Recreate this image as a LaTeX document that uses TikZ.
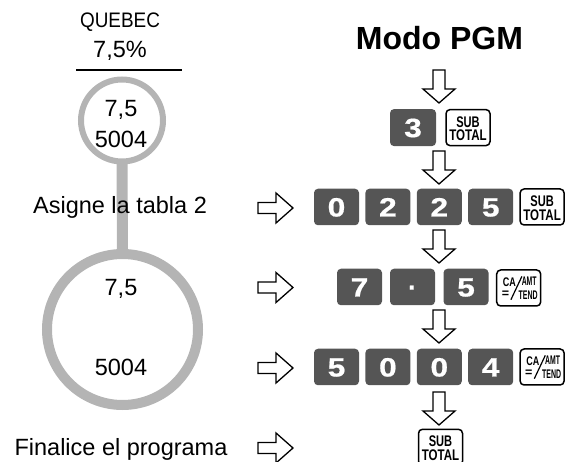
\documentclass[tikz,border=0pt]{standalone}
\usepackage{fontspec}
\setmainfont{Liberation Sans}
\newfontfamily\keyfont[FakeBold=0.6]{Liberation Sans Bold}
\usepackage{graphicx}
\definecolor{keygray}{RGB}{85,85,85}
\definecolor{ringgray}{RGB}{180,180,180}
\tikzset{
  numkey/.style={rectangle, rounded corners=4pt, fill=keygray, minimum width=45pt, minimum height=36.5pt,
    inner sep=0pt, text=white, font=\keyfont\fontsize{26.5}{26.5}\selectfont, text height=19pt, text depth=0pt},
  fnkey/.style={rectangle, rounded corners=4pt, draw=black, line width=1.5pt, fill=white,
    minimum width=44pt, minimum height=36pt, inner sep=0pt},
  fnlab/.style={inner sep=0pt, font=\fontsize{15.4}{15.4}\selectfont\bfseries},
  camlab/.style={inner sep=0pt, font=\fontsize{12.5}{12.5}\selectfont\bfseries},
  lbl/.style={inner sep=0pt, anchor=base, font=\fontsize{23.5}{23.5}\selectfont},
  ringnode/.style={circle, draw=ringgray, inner sep=0pt},
  stem/.style={draw=ringgray, line width=11pt},
  blockarrow/.style={draw=black, line width=1.3pt, fill=white, line join=miter},
  downarr/.pic={\draw[blockarrow] (-6,0) -- (6,0) -- (6,19) -- (16,19) -- (0,33) -- (-16,19) -- (-6,19) -- cycle;},
  rightarr/.pic={\draw[blockarrow] (0,-5.5) -- (18,-5.5) -- (18,-15) -- (35,0) -- (18,15) -- (18,5.5) -- (0,5.5) -- cycle;},
}
\newcommand\kd[1]{\scalebox{1.2}[1]{#1}}
\newcommand\subtotalkey[2]{%
  \node[fnkey] (#1) at (#2) {};
  \node[fnlab] (#1-a) at ([yshift=5.7pt]#1.center) {\scalebox{0.72}[1]{SUB}};
  \node[fnlab] (#1-b) at ([yshift=-8.1pt]#1.center) {\scalebox{0.75}[1]{TOTAL}};
}
\newcommand\camtkey[2]{%
  \node[fnkey] (#1) at (#2) {};
  \node[camlab] (#1-a) at ([xshift=-9.3pt,yshift=5.5pt]#1.center) {\scalebox{0.72}[1]{CA}};
  \node[camlab] (#1-b) at ([xshift=-13.3pt,yshift=-6.5pt]#1.center) {=};
  \node[camlab] (#1-c) at ([xshift=10.5pt,yshift=7pt]#1.center) {\scalebox{0.55}[1]{AMT}};
  \node[camlab] (#1-d) at ([xshift=9.5pt,yshift=-7.5pt]#1.center) {\scalebox{0.56}[1]{TEND}};
  \draw[line width=1.2pt] ([xshift=-7.8pt,yshift=-11.7pt]#1.center) -- ([xshift=3.2pt,yshift=11.6pt]#1.center);
}
\begin{document}
\begin{tikzpicture}[x=1pt, y=-1pt]
\useasboundingbox (0,0) rectangle (568,462);
\clip (0,0) rectangle (568,462);

% left column
\node[lbl, font=\fontsize{21}{21}\selectfont] (quebec) at (120,28) {\scalebox{0.9}[1]{QUEBEC}};
\node[lbl] (rate) at (120,57.5) {7,5\%};
\coordinate (ruleL) at (76,70);
\coordinate (ruleR) at (182,70);
\draw[line width=2.2pt] (ruleL) -- (ruleR);

\node[ringnode, line width=6pt, minimum size=82pt] (ringA) at (122,120.5) {};
\node[ringnode, line width=10pt, minimum size=151pt] (ringB) at (122.5,329.5) {};
\draw[stem] ([yshift=3pt]ringA.south) -- ([yshift=-4pt]ringB.north);

\node[lbl] (s1) at (121,116.7) {7,5};
\node[lbl] (s2) at (121,147.3) {5004};
\node[lbl] (asigne) at (120,214) {Asigne la tabla 2};
\node[lbl] (b1) at (121,296) {7,5};
\node[lbl] (b2) at (121,375.7) {5004};
\node[lbl] (fin) at (121,455) {Finalice el programa};

% right-pointing block arrows
\pic at (258,208) {rightarr};
\pic at (258,287.5) {rightarr};
\pic at (258,368) {rightarr};
\pic at (258,448) {rightarr};

% right column
\node[anchor=base, inner sep=0pt, font=\fontsize{32}{32}\selectfont\bfseries] (modo) at (439.5,50) {Modo PGM};

\pic at (439,70) {downarr};
\node[numkey, minimum width=46pt, minimum height=37pt] (k3) at (413,127.6) {\kd{3}};
\subtotalkey{st1}{468,127.6}

\pic at (439,151) {downarr};
\node[numkey] (r2a) at (336.5,207) {\kd{0}};
\node[numkey] (r2b) at (387.9,207) {\kd{2}};
\node[numkey] (r2c) at (439.3,207) {\kd{2}};
\node[numkey] (r2d) at (490.7,207) {\kd{5}};
\subtotalkey{st2}{542.1,207}

\pic at (439,230) {downarr};
\node[numkey] (r3a) at (359.5,287) {\kd{7}};
\node[numkey] (r3b) at (412.5,287) {·};
\node[numkey] (r3c) at (466,287) {\kd{5}};
\camtkey{ca1}{518.7,288}

\pic at (439,310) {downarr};
\node[numkey] (r4a) at (336.5,367) {\kd{5}};
\node[numkey] (r4b) at (387.9,367) {\kd{0}};
\node[numkey] (r4c) at (439.3,367) {\kd{0}};
\node[numkey] (r4d) at (490.7,367) {\kd{4}};
\camtkey{ca2}{542.1,367}

\pic at (439,392) {downarr};
\subtotalkey{st3}{440.5,447.3}
\end{tikzpicture}
\end{document}
